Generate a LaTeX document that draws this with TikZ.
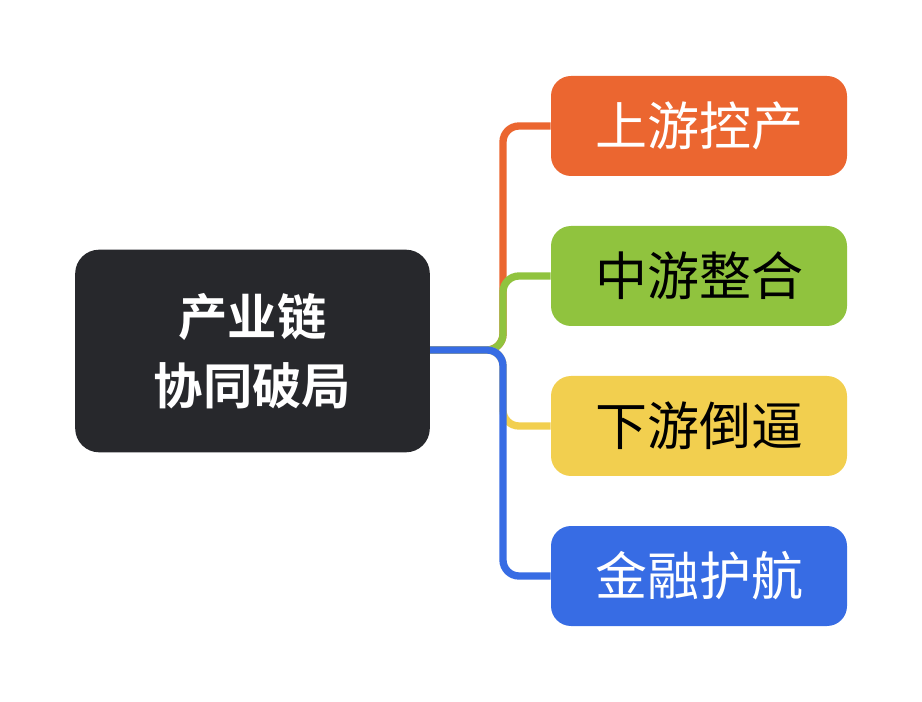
\documentclass[tikz,border=0pt]{standalone}
\usepackage{fontspec}
\newfontfamily\cjk{Noto Sans CJK SC}
\newfontfamily\cjkbold{Noto Sans CJK SC Bold}
\definecolor{rootc}{HTML}{27282C}
\definecolor{orangec}{HTML}{EB6630}
\definecolor{greenc}{HTML}{90C33E}
\definecolor{yellowc}{HTML}{F2CF4F}
\definecolor{bluec}{HTML}{376CE4}
\tikzset{
  topic/.style={shape=rectangle,rounded corners=15pt,minimum width=222pt,minimum height=75pt,inner sep=0pt,font=\cjk\fontsize{39}{44}\selectfont},
  branch/.style={line width=5.5pt,rounded corners=12pt}
}
\begin{document}
\begin{tikzpicture}[x=0.75pt,y=-0.75pt]
    \useasboundingbox (0,0) rectangle (922,702);
    \node[shape=rectangle,rounded corners=18pt,fill=rootc,minimum width=266pt,minimum height=152pt,align=center,text=white,font=\cjkbold\fontsize{37}{52}\selectfont] (R) at (252.5,351) {产业链\\协同破局};
    \node[topic,fill=orangec,text=white] (A) at (699,126) {上游控产};
    \node[topic,fill=greenc,text=black] (B) at (699,276) {中游整合};
    \node[topic,fill=yellowc,text=black] (C) at (699,426) {下游倒逼};
    \node[topic,fill=bluec,text=white] (D) at (699,576) {金融护航};
    \coordinate (T) at (503,350);

    \draw[branch,orangec] (R.east |- T) -- (T) |- (A.west);
    \draw[branch,greenc] (R.east |- T) -- (T) |- (B.west);
    \draw[branch,yellowc] (R.east |- T) -- (T) |- (C.west);
    \draw[branch,bluec] (R.east |- T) -- (T) |- (D.west);
\end{tikzpicture}
\end{document}
